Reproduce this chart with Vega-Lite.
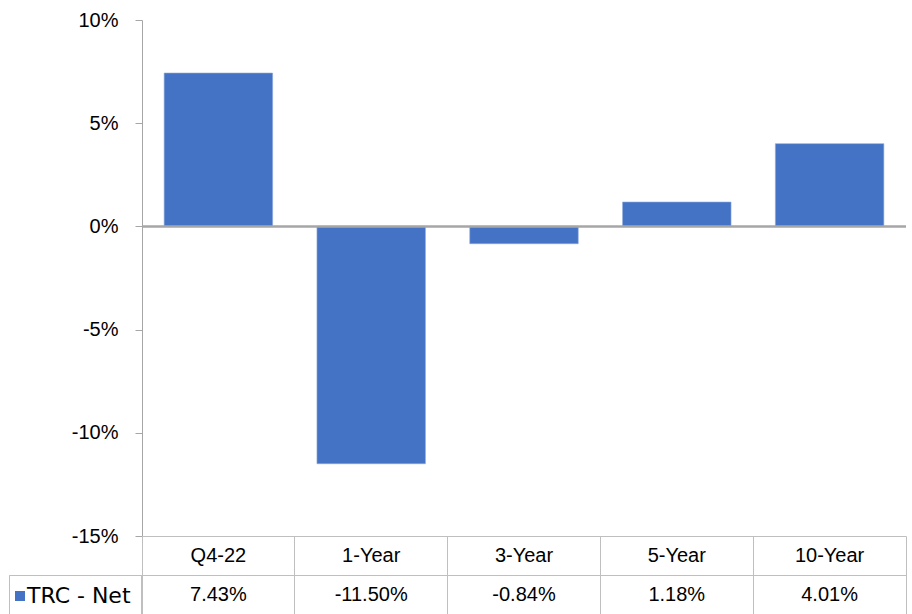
{
  "$schema": "https://vega.github.io/schema/vega-lite/v6.json",
  "padding": {"left": 8, "top": 10, "right": 7, "bottom": 0},
  "background": "white",
  "bounds": "flush",
  "config": {
    "locale": {"number": {"decimal": ".", "thousands": ",", "grouping": [3], "currency": ["$", ""], "minus": "-"}},
    "font": "Liberation Sans"
  },
  "data": {"values": [
    {"period": "Q4-22", "value": 0.0743, "series": "TRC - Net"},
    {"period": "1-Year", "value": -0.115, "series": "TRC - Net"},
    {"period": "3-Year", "value": -0.0084, "series": "TRC - Net"},
    {"period": "5-Year", "value": 0.0118, "series": "TRC - Net"},
    {"period": "10-Year", "value": 0.0401, "series": "TRC - Net"}
  ]},
  "spacing": 0,
  "resolve": {"scale": {"x": "independent", "y": "independent"}},
  "vconcat": [
    {
      "width": 764,
      "height": 516,
      "view": {"stroke": null},
      "layer": [
        {
          "mark": {"type": "bar", "stroke": "#8faadc", "strokeWidth": 0.6},
          "encoding": {
            "x": {"field": "period", "type": "nominal", "sort": ["Q4-22", "1-Year", "3-Year", "5-Year", "10-Year"],
                  "scale": {"paddingInner": 0.29, "paddingOuter": 0.145}, "axis": null},
            "y": {"field": "value", "type": "quantitative",
                  "scale": {"domain": [-0.15, 0.1], "nice": false, "zero": false},
                  "axis": {"values": [-0.15, -0.1, -0.05, 0, 0.05, 0.1], "format": ".0%", "grid": false, "title": null,
                           "domainColor": "#a6a6a6", "tickColor": "#a6a6a6", "tickSize": 7, "labelFontSize": 20,
                           "labelPadding": 17, "labelColor": "black", "labelFont": "Liberation Sans"}},
            "color": {"field": "series", "type": "nominal", "scale": {"range": ["#4472C4"]},
                      "legend": {"orient": "none", "legendX": -133, "legendY": 555, "title": null,
                                 "symbolType": "square", "symbolSize": 100, "symbolStrokeWidth": 0, "symbolOffset": -10,
                                 "labelFontSize": 22, "labelFont": "DejaVu Sans", "labelColor": "black", "labelOffset": -4,
                                 "padding": 10, "strokeColor": "#bfbfbf"}}
          }
        },
        {
          "mark": {"type": "rule", "color": "#a6a6a6", "strokeWidth": 1.5},
          "encoding": {"y": {"datum": 0}}
        }
      ]
    },
    {
      "width": 764,
      "height": 78,
      "view": {"stroke": "#bfbfbf"},
      "layer": [
        {
          "mark": {"type": "text", "fontSize": 20, "color": "black", "font": "Liberation Sans"},
          "encoding": {
            "x": {"field": "period", "type": "nominal", "sort": ["Q4-22", "1-Year", "3-Year", "5-Year", "10-Year"],
                  "scale": {"type": "band", "padding": 0},
                  "axis": {"grid": true, "bandPosition": 0, "labels": false, "ticks": false, "domain": false,
                           "title": null, "gridColor": "#bfbfbf"}},
            "y": {"datum": "Period", "type": "nominal",
                  "scale": {"type": "band", "domain": ["Period", "TRC - Net"], "padding": 0},
                  "axis": {"values": ["TRC - Net"], "bandPosition": 0, "grid": true, "gridColor": "#bfbfbf",
                           "ticks": true, "tickSize": 133, "tickColor": "#bfbfbf", "labels": false,
                           "domain": false, "title": null}},
            "text": {"field": "period"}
          }
        },
        {
          "mark": {"type": "text", "fontSize": 20, "color": "black", "font": "Liberation Sans"},
          "encoding": {
            "x": {"field": "period", "type": "nominal", "sort": ["Q4-22", "1-Year", "3-Year", "5-Year", "10-Year"]},
            "y": {"datum": "TRC - Net", "type": "nominal"},
            "text": {"field": "value", "format": ".2%"}
          }
        }
      ]
    }
  ]
}
